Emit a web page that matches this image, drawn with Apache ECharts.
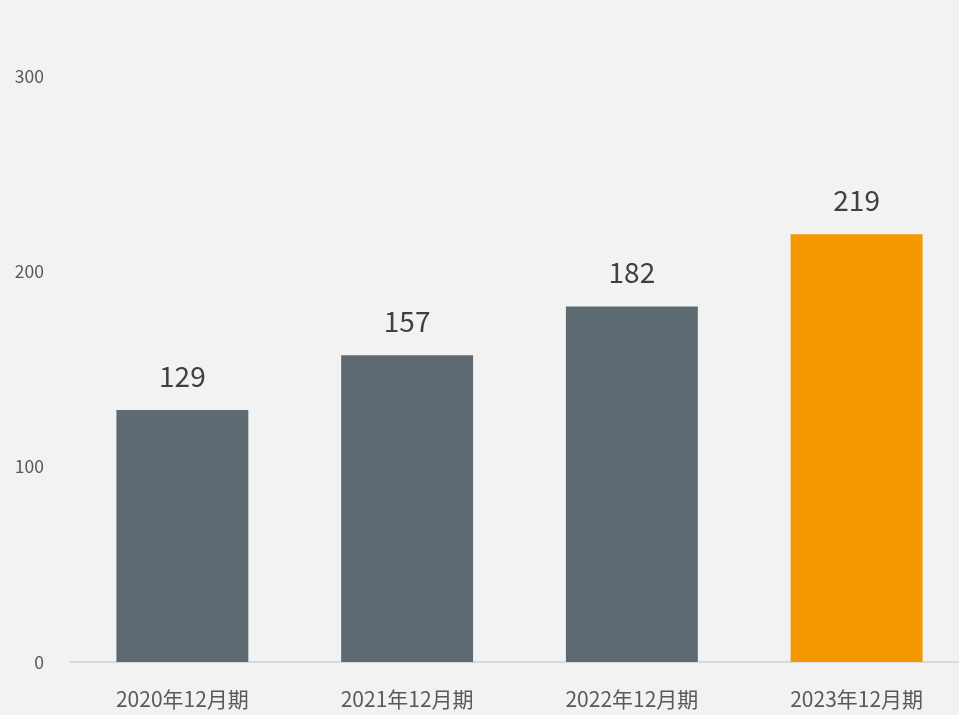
<!DOCTYPE html>
<html><head><meta charset="utf-8">
<script src="https://cdn.jsdelivr.net/npm/echarts@6/dist/echarts.min.js"></script>
<style>html,body{margin:0;padding:0;background:#f2f2f2;}#c{width:959px;height:715px;}</style>
</head><body><div id="c"></div>
<script>
const categories = ['2020年12月期','2021年12月期','2022年12月期','2023年12月期'];
const values = [129, 157, 182, 219];
const barColors = ['#5e6a72','#5e6a72','#5e6a72','#f39800'];
const chart = echarts.init(document.getElementById('c'));
chart.setOption({
  backgroundColor: '#f2f2f2',
  animation: false,
  textStyle: {fontFamily: '"Noto Sans CJK JP", "Noto Sans", sans-serif'},
  grid: {left: 70, width: 899, top: 76, bottom: 53, outerBoundsMode: 'none', containLabel: false},
  xAxis: {
    type: 'category', data: categories,
    axisLine: {lineStyle: {color: '#d9d9d9', width: 2}},
    axisTick: {show: false},
    axisLabel: {color: '#595959', fontSize: 21, margin: 27, fontFamily: '"Noto Sans CJK JP", sans-serif'}
  },
  yAxis: {
    type: 'value', min: 0, max: 300, interval: 100,
    splitLine: {show: false},
    axisLine: {show: false}, axisTick: {show: false},
    axisLabel: {color: '#595959', fontSize: 17.5, margin: 26, fontFamily: '"Noto Sans CJK JP", sans-serif'}
  },
  series: [{
    type: 'bar', barWidth: '58.7%',
    data: values.map((v, i) => ({value: v, itemStyle: {color: barColors[i]}})),
    label: {show: true, position: 'top', distance: 20, color: '#404040', fontSize: 28, fontFamily: '"Noto Sans CJK JP", sans-serif'}
  }]
});
</script></body></html>
